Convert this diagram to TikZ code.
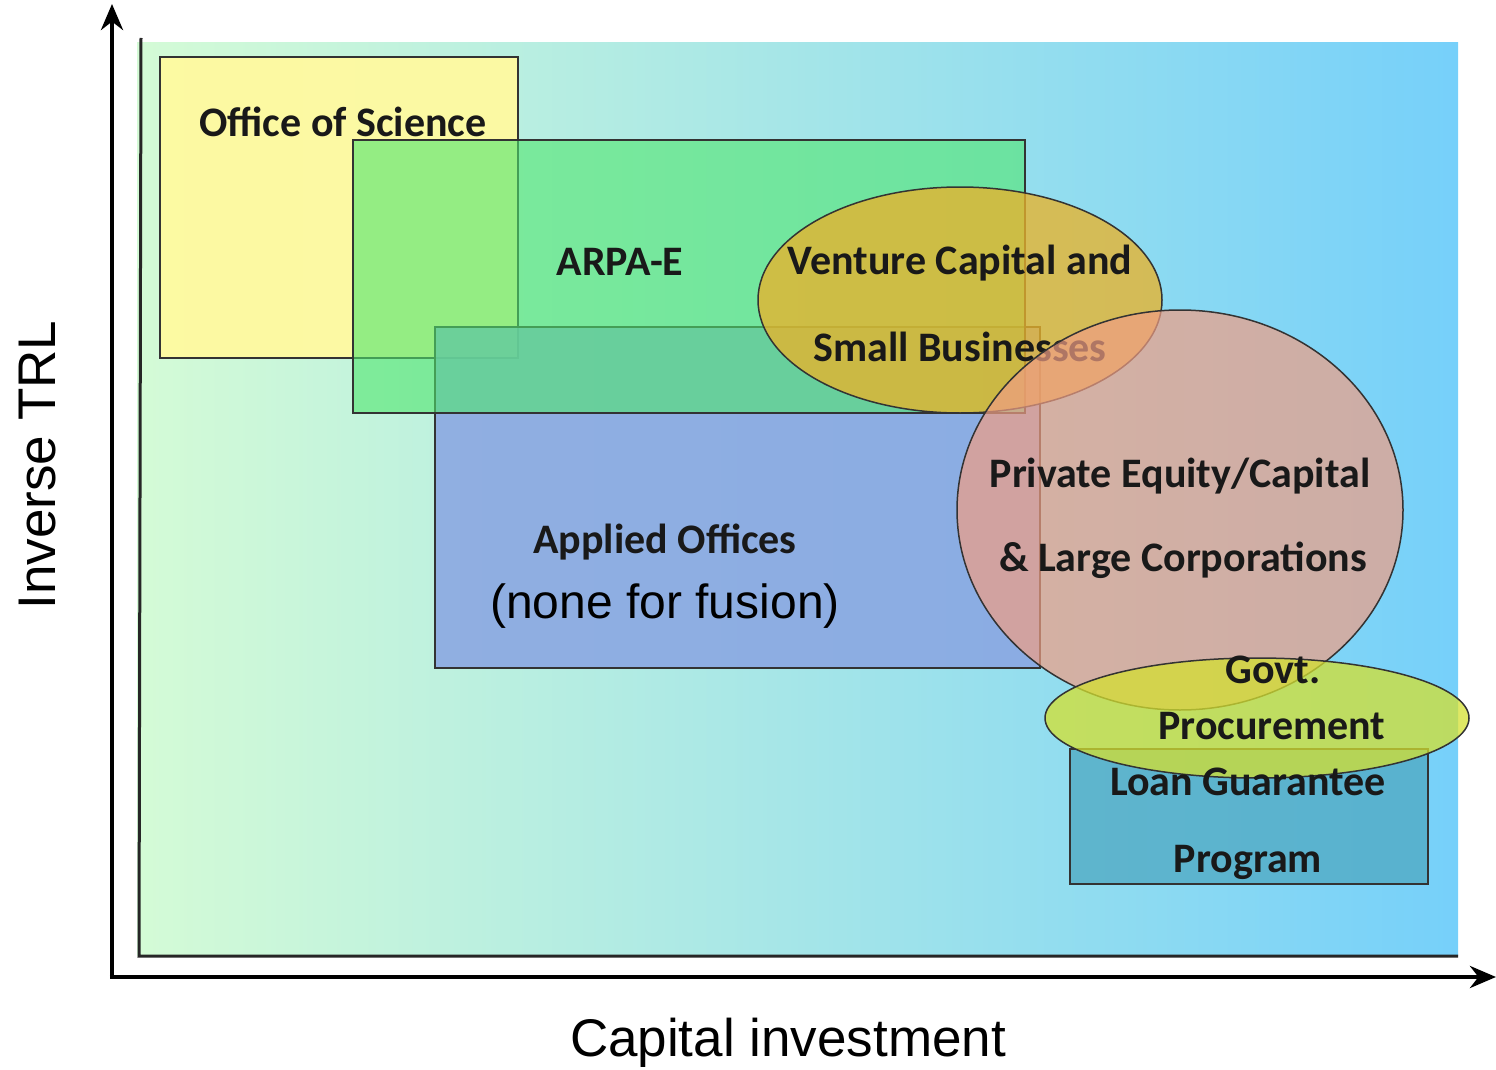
\documentclass[tikz,border=0pt]{standalone}
\usepackage{fontspec}
\setmainfont{Carlito}
\newfontfamily\arialfont{Liberation Sans}
\usetikzlibrary{shapes.geometric,arrows.meta}
\definecolor{gradL}{HTML}{D4FBD6}
\definecolor{gradR}{HTML}{76D0FA}
\definecolor{officeC}{HTML}{FFFAA0}
\definecolor{arpaC}{HTML}{50E66E}
\definecolor{appliedC}{HTML}{8AA6E2}
\definecolor{vcC}{HTML}{E8B32C}
\definecolor{peC}{HTML}{F09E84}
\definecolor{govC}{HTML}{D4E030}
\definecolor{loanC}{HTML}{4EA8C2}
\tikzset{
  area/.style={draw=black!80, line width=1.5pt, inner sep=0pt, outer sep=0pt},
  lbl/.style={font=\fontsize{42}{44}\selectfont\bfseries, inner sep=0pt, text=black!90},
  axlbl/.style={font=\arialfont\fontsize{53}{56}\selectfont, inner sep=0pt},
  axis/.style={line width=4.5pt, -{Stealth[length=26pt,width=22pt]}},
}
\begin{document}
\begin{tikzpicture}[x=1pt,y=-1pt]
\useasboundingbox (0,0) rectangle (1496,1070);
% background panel
\node[anchor=north west, minimum width=1321pt, minimum height=913pt, inner sep=0pt,
      left color=gradL, right color=gradR, shading angle=90] (panel) at (137,42) {};
\coordinate (pTL) at (141,38);
\coordinate (pBL) at (139,956);
\coordinate (pBR) at (1458,956);
\draw[line width=3pt, black!85] (pTL) -- (pBL) -- (pBR);
% axes
\coordinate (origin) at (112,977);
\coordinate (ytip) at (112,4);
\coordinate (xtip) at (1496,977);
\draw[axis] (origin) -- (ytip);
\draw[axis] ([xshift=-2.25pt]origin) -- (xtip);
\node[axlbl, rotate=90] (ylab) at (38,465) {Inverse TRL};
\node[axlbl] (xlab) at (788,1043) {Capital investment};
% boxes
\node[area, fill=officeC, fill opacity=0.95, anchor=north west, minimum width=358pt, minimum height=301pt] (office) at (160,57) {};
\node[area, fill=appliedC, fill opacity=0.88, anchor=north west, minimum width=605pt, minimum height=341pt] (applied) at (435,327) {};
\node[area, fill=arpaC, fill opacity=0.6, anchor=north west, minimum width=672pt, minimum height=273pt] (arpa) at (353,140) {};
\node[lbl] (tOffice) at (343,122) {Office of Science};
\node[lbl] (tArpa) at (620,262) {ARPA-E};
\node[lbl] (tApplied) at (665,542) {Applied Offices};
\node[font=\arialfont\fontsize{48}{50}\selectfont, inner sep=0pt] (tNone) at (665,606) {(none for fusion)};
% venture capital
\node[area, ellipse, fill=vcC, fill opacity=0.78, minimum width=404pt, minimum height=226pt] (vc) at (960,300) {};
\node[lbl] (tVC1) at (960,263) {Venture Capital and};
\node[lbl] (tVC2) at (960,347) {Small Businesses};
% private equity
\node[area, ellipse, fill=peC, fill opacity=0.7, minimum width=446pt, minimum height=400pt] (pe) at (1180,510) {};
\node[lbl] (tPE1) at (1180,476) {Private Equity/Capital};
\node[lbl] (tPE2) at (1183,560) {\& Large Corporations};
% loan guarantee
\node[area, fill=loanC, fill opacity=0.75, anchor=north west, minimum width=358pt, minimum height=135pt] (loan) at (1070,749) {};
% govt procurement
\node[area, ellipse, fill=govC, fill opacity=0.75, minimum width=424pt, minimum height=120pt] (gov) at (1257,718) {};
\node[lbl] (tGov1) at (1273,670) {Govt.};
\node[lbl] (tGov2) at (1272,726) {Procurement};
\node[lbl] (tLoan1) at (1248,782) {Loan Guarantee};
\node[lbl] (tLoan2) at (1248,862) {Program};
\end{tikzpicture}
\end{document}
